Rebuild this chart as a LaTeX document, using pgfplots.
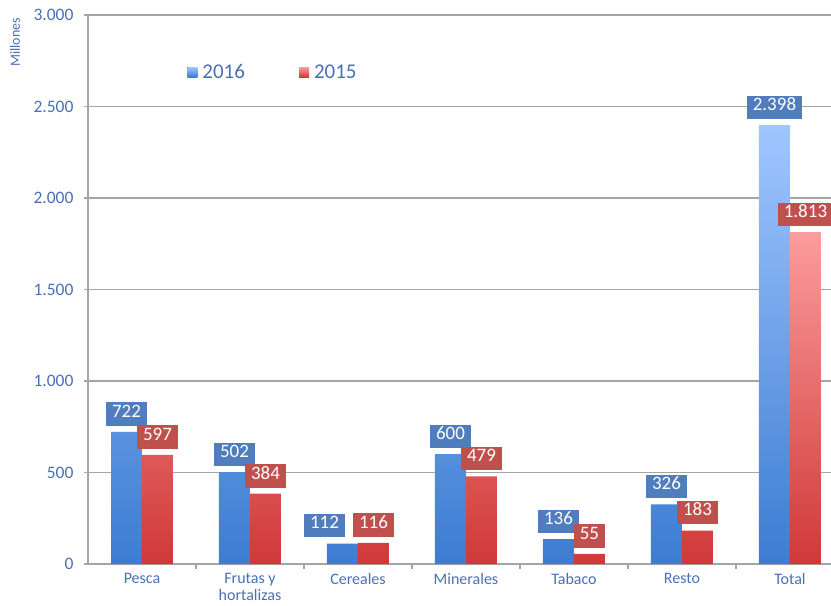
\documentclass[border=0pt]{standalone}
\usepackage{fontspec}
\setmainfont{Carlito}
\usepackage{pgfplots}
\pgfplotsset{compat=1.18}

\definecolor{lbl}{RGB}{74,112,180}
\definecolor{gridc}{RGB}{165,165,165}
\definecolor{boxblue}{RGB}{79,125,189}
\definecolor{boxred}{RGB}{192,80,77}
\definecolor{bluetop}{RGB}{160,198,255}
\definecolor{bluebot}{RGB}{60,124,210}
\definecolor{redtop}{RGB}{252,156,156}
\definecolor{redbot}{RGB}{208,56,56}

\pgfplotsset{
  sqlegend/.style={legend image code/.code={%
    \fill[##1,draw=none] (0pt,-5pt) rectangle (10pt,5pt);
    \path (0pt,0pt) -- (13pt,0pt);}},
}

% x value dx (label shift in pt)
\pgfplotstableread{
x  y    dx
0  722  0
1  502  0
2  112  -18
3  600  0
4  136  0
5  326  0
6  2398 0
}\datasixteen
\pgfplotstableread{
x  y    dx
0  597  0
1  384  0
2  116  0
3  479  0
4  55   0
5  183  0
6  1813 0
}\datafifteen

\begin{document}
\begin{tikzpicture}
\begin{axis}[
  name=ax,
  scale only axis, width=743pt, height=549pt,
  ybar=0pt, bar width=0.287,
  xmin=-0.5, xmax=6.38,
  ymin=0, ymax=3000, ytick={0,500,...,3000},
  xtick={0,...,6},
  xticklabels={Pesca,{Frutas y\\hortalizas},Cereales,Minerales,Tabaco,Resto,Total},
  minor xtick={0.5,1.5,...,5.5},
  axis x line*=bottom, axis y line*=left,
  axis line style={draw=gridc, line width=1.8pt},
  tick align=outside,
  major x tick style={draw=none},
  minor x tick style={draw=gridc, line width=1.8pt},
  minor tick length=5pt,
  major y tick style={draw=gridc, line width=1.8pt},
  major tick length=4pt,
  ymajorgrids, grid style={draw=gridc, line width=1.8pt},
  /pgf/number format/assume math mode=true,
  /pgf/number format/.cd, use comma, 1000 sep={.}, /pgfplots/.cd,
  yticklabel style={font=\fontsize{17.5}{20}\selectfont, text=lbl, xshift=-7pt},
  xticklabel style={font=\fontsize{16}{16.5}\selectfont, text=lbl, align=center, yshift=-2pt},
  ylabel={Millones},
  ylabel style={at={(rel axis cs:0,0.95)}, anchor=center, yshift=73pt,
    font=\fontsize{14}{15}\selectfont, text=lbl},
  visualization depends on={\thisrow{dx} \as \dx},
  nodes near coords={\pgfmathprintnumber[fixed,precision=0]{\pgfplotspointmeta}},
  every node near coord/.append style={font=\fontsize{19}{21}\selectfont, text=white,
    anchor=south, yshift=6pt, xshift=\dx pt, inner xsep=6pt, inner ysep=8.5pt,
    text height=0.64em, text depth=0pt},
  legend style={at={(0.249,0.896)}, anchor=center, draw=none, fill=none,
    legend columns=2, font=\fontsize{21}{24}\selectfont, text=lbl,
    /tikz/every even column/.append style={column sep=52pt}},
  legend cell align=left,
]
\addplot[draw=none, top color=bluetop, bottom color=bluebot, sqlegend,
  every node near coord/.append style={fill=boxblue}]
  table[x=x, y=y] {\datasixteen};
\addlegendentry{2016}
\addplot[draw=none, top color=redtop, bottom color=redbot, sqlegend,
  every node near coord/.append style={fill=boxred}]
  table[x=x, y=y] {\datafifteen};
\addlegendentry{2015}
\end{axis}
\pgfresetboundingbox
\useasboundingbox ([xshift=-88pt,yshift=-41pt]ax.south west) rectangle ([yshift=15pt]ax.north east);
\end{tikzpicture}
\end{document}
